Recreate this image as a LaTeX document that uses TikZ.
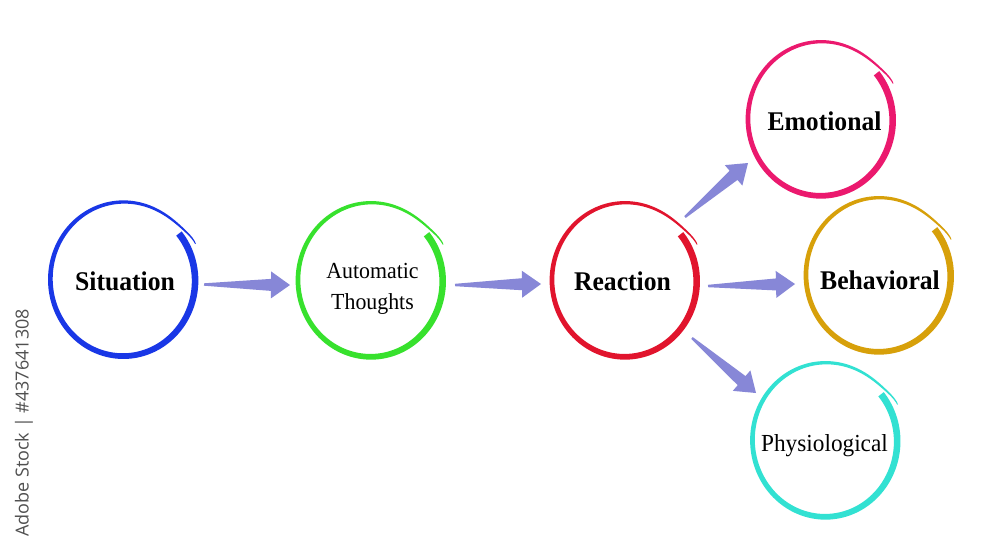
\documentclass[tikz,border=0pt]{standalone}
\usepackage{fontspec}
\setmainfont{Liberation Serif}[FakeStretch=0.95]
\newfontfamily\wmfont{Open Sans}
\usetikzlibrary{calc}
\definecolor{cblue}{RGB}{25,55,230}
\definecolor{cgreen}{RGB}{55,225,45}
\definecolor{cred}{RGB}{225,20,45}
\definecolor{cpink}{RGB}{235,25,110}
\definecolor{cgold}{RGB}{215,160,10}
\definecolor{ccyan}{RGB}{50,225,210}
\definecolor{arrowcol}{RGB}{135,135,215}
\definecolor{wmgray}{RGB}{80,80,80}
\tikzset{
  declare function={
    tt(\a)=(\a-25)/373;
    kk(\a)=1+0.09/(1+((\a-25)/14)^2)-0.035*tt(\a)*tt(\a)*tt(\a)*tt(\a)*tt(\a)*tt(\a);
    ww(\a)=0.7+6.2*sqrt(tt(\a)+0.0005);
  },
  bigl/.style={inner sep=0pt, text height=18pt, text depth=0pt,
    font=\fontsize{27}{30}\selectfont\bfseries},
  smalll/.style={inner sep=0pt, text height=18pt, text depth=0pt,
    font=\fontsize{24.5}{28}\selectfont},
  twol/.style={inner sep=0pt, align=center,
    font=\fontsize{23}{31}\selectfont},
}
\newcommand\brushring[2]{%
  \begin{scope}[shift={(#1)}]
    \fill[#2] plot[domain=25:398,samples=170,variable=\t]
      ({(73*kk(\t)+ww(\t)/2)*cos(\t)},{-(77*kk(\t)+ww(\t)/2)*sin(\t)})
      -- plot[domain=398:25,samples=170,variable=\t]
      ({(73*kk(\t)-ww(\t)/2)*cos(\t)},{-(77*kk(\t)-ww(\t)/2)*sin(\t)})
      -- cycle;
  \end{scope}}
\newcommand\tarrow[2]{%
  \coordinate (hb) at ($(#2)!19pt!(#1)$);
  \fill[arrowcol] ($(#1)!1.2pt!90:(#2)$) -- ($(hb)!6pt!90:(#2)$)
    -- ($(hb)!13.5pt!90:(#2)$) -- (#2) -- ($(hb)!13.5pt!-90:(#2)$)
    -- ($(hb)!6pt!-90:(#2)$) -- ($(#1)!1.2pt!-90:(#2)$) -- cycle;}
\begin{document}
\begin{tikzpicture}[x=1pt,y=-1pt]
\fill[white] (0,0) rectangle (1000,544);
\useasboundingbox (0,0) rectangle (1000,544);

% labels
\node[bigl] (sit) at (125,281) {Situation};
\node[twol] (aut) at (372.5,288.5) {Automatic\\Thoughts};
\node[bigl] (rea) at (622.5,281) {Reaction};
\node[bigl] (emo) at (824.5,121) {Emotional};
\node[bigl] (beh) at (880,280) {Behavioral};
\node[smalll] (phy) at (824.5,442) {Physiological};

% ring centres
\coordinate (sitC) at ($(sit)+(-1.6,-1.7)$);
\coordinate (autC) at ($(aut)+(-1.5,-8.5)$);
\coordinate (reaC) at ($(rea)+(2.5,-1)$);
\coordinate (emoC) at ($(emo)+(-3.5,-2)$);
\coordinate (behC) at ($(beh)+(-1,-5)$);
\coordinate (phyC) at ($(phy)+(1,-2)$);

\brushring{sitC}{cblue}
\brushring{autC}{cgreen}
\brushring{reaC}{cred}
\brushring{emoC}{cpink}
\brushring{behC}{cgold}
\brushring{phyC}{ccyan}

% arrow ends
\coordinate (a1s) at ($(sitC)+(80.6,5.2)$);
\coordinate (a1e) at ($(autC)+(-81,5)$);
\coordinate (a2s) at ($(autC)+(84,5)$);
\coordinate (a2e) at ($(reaC)+(-84,4)$);
\coordinate (a3s) at ($(reaC)+(83,6)$);
\coordinate (a3e) at ($(behC)+(-84,9)$);
\coordinate (a4s) at ($(reaC)+(60,-63)$);
\coordinate (a4e) at ($(emoC)+(-73,44)$);
\coordinate (a5s) at ($(reaC)+(67,58)$);
\coordinate (a5e) at ($(phyC)+(-69.5,-47)$);

\tarrow{a1s}{a1e}
\tarrow{a2s}{a2e}
\tarrow{a3s}{a3e}
\tarrow{a4s}{a4e}
\tarrow{a5s}{a5e}

% watermark text
\node[rotate=90, inner sep=0pt, text=wmgray, font=\wmfont\fontsize{18}{20}\selectfont] (wm) at (24,423) {Adobe Stock | \#437641308};
\end{tikzpicture}
\end{document}
